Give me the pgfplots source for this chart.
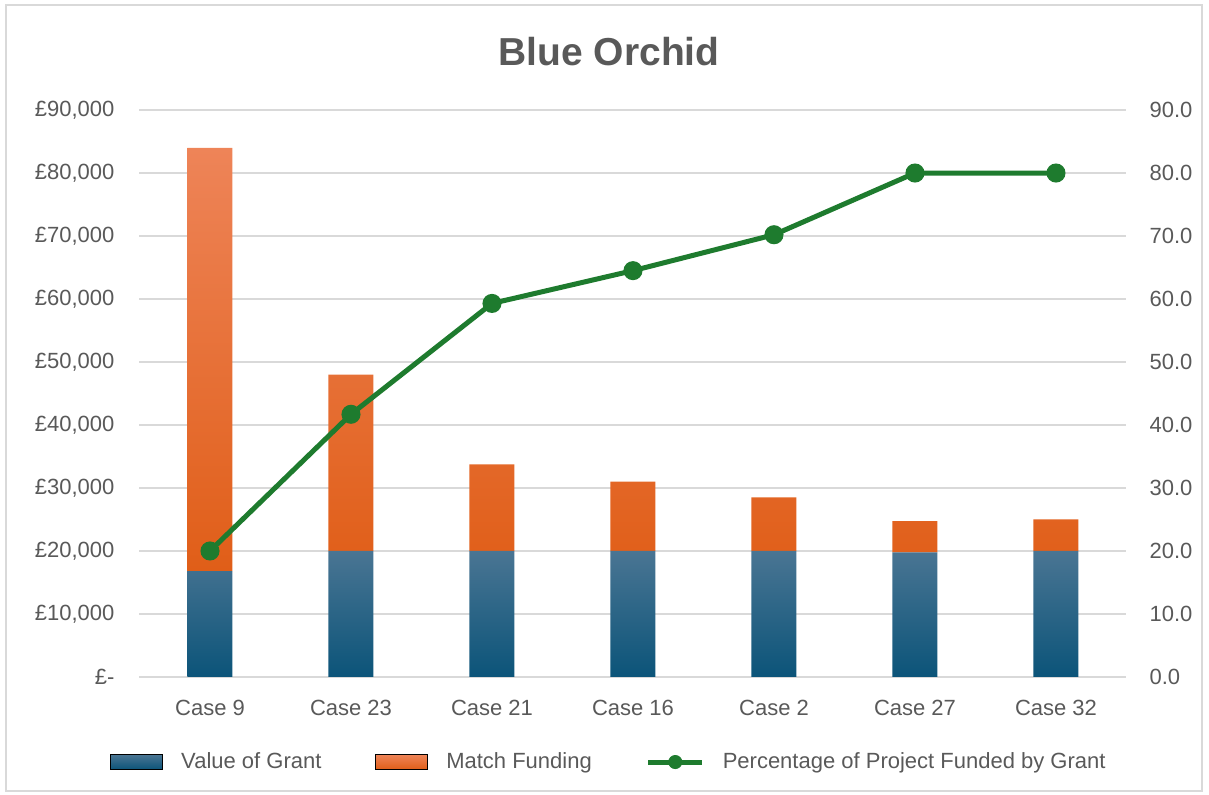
\documentclass[border=0pt]{standalone}
\usepackage{pgfplots}
\pgfplotsset{compat=1.18}
\usepackage{fontspec}
\setmainfont{Liberation Sans}
\definecolor{txt}{HTML}{595959}
\definecolor{gridc}{HTML}{D9D9D9}
\definecolor{blueTop}{HTML}{4A7593}
\definecolor{blueBot}{HTML}{0B5479}
\definecolor{orTop}{HTML}{EE8458}
\definecolor{orBot}{HTML}{E05E18}
\definecolor{grn}{HTML}{1E7B2E}
\begin{document}
\begin{tikzpicture}
\useasboundingbox (0,0) rectangle (604.5pt,397.5pt);
\draw[gridc, line width=0.6pt] (3pt,2pt) rectangle (601pt,395pt);
\node[text=txt, font=\fontsize{19.5}{22}\selectfont\bfseries] at (304.5pt,371.5pt) {Blue Orchid};
\begin{axis}[
  at={(69.75pt,59pt)}, anchor=south west,
  scale only axis, width=493.5pt, height=283.5pt,
  ybar stacked, bar width=22.5pt,
  xmin=-0.5, xmax=6.5, ymin=0, ymax=90000,
  scaled y ticks=false,
  xtick={0,...,6},
  xticklabels={Case 9,Case 23,Case 21,Case 16,Case 2,Case 27,Case 32},
  ytick={0,10000,...,90000},
  yticklabels={£-,£10{,}000,£20{,}000,£30{,}000,£40{,}000,£50{,}000,£60{,}000,£70{,}000,£80{,}000,£90{,}000},
  ymajorgrids, grid style={gridc, line width=0.7pt},
  axis line style={draw=none}, major tick length=0pt,
  tick label style={text=txt, font=\fontsize{11}{13}\selectfont},
  yticklabel style={xshift=-9pt},
  xticklabel style={yshift=-8pt},
  axis y line*=left,
  clip=false,
]
\addplot[draw=none, top color=blueTop, bottom color=blueBot] coordinates {(0,16800) (1,20000) (2,20000) (3,20000) (4,20000) (5,19800) (6,20000)};
\addplot[draw=none, top color=orTop, bottom color=orBot] coordinates {(0,67200) (1,28000) (2,13750) (3,11000) (4,8500) (5,4950) (6,5000)};
\end{axis}
\begin{axis}[
  at={(69.75pt,59pt)}, anchor=south west,
  scale only axis, width=493.5pt, height=283.5pt,
  xmin=-0.5, xmax=6.5, ymin=0, ymax=90,
  axis y line*=right, axis x line=none,
  ytick={0,10,...,90},
  /pgf/number format/fixed, /pgf/number format/fixed zerofill, /pgf/number format/precision=1,
  /pgf/number format/assume math mode=true,
  yticklabel style={text=txt, font=\fontsize{11}{13}\selectfont, xshift=8pt},
  axis line style={draw=none}, major tick length=0pt,
  clip=false,
  legend columns=3,
  legend style={at={(0.4767,-0.15)}, anchor=center, draw=none, fill=none,
    font=\fontsize{11}{13}\selectfont, text=txt,
    /tikz/every odd column/.append style={column sep=7pt},
    /tikz/every even column/.append style={column sep=25pt}},
]
\addlegendimage{legend image code/.code={\path[top color=blueTop, bottom color=blueBot] (0pt,-3.75pt) rectangle (26pt,3.75pt);}}
\addlegendentry{Value of Grant}
\addlegendimage{legend image code/.code={\path[top color=orTop, bottom color=orBot] (0pt,-3.75pt) rectangle (26pt,3.75pt);}}
\addlegendentry{Match Funding}
\addlegendimage{legend image code/.code={\draw[grn, line width=2.5pt] (0pt,0pt) -- (27pt,0pt); \fill[grn] (13.5pt,0pt) circle (3.3pt);}}
\addlegendentry{Percentage of Project Funded by Grant}
\addplot[forget plot, grn, line width=2.5pt, mark=*, mark size=3.5pt, mark options={fill=grn, draw=grn}] coordinates {(0,20.0) (1,41.7) (2,59.3) (3,64.5) (4,70.2) (5,80.0) (6,80.0)};
\end{axis}
\end{tikzpicture}
\end{document}
